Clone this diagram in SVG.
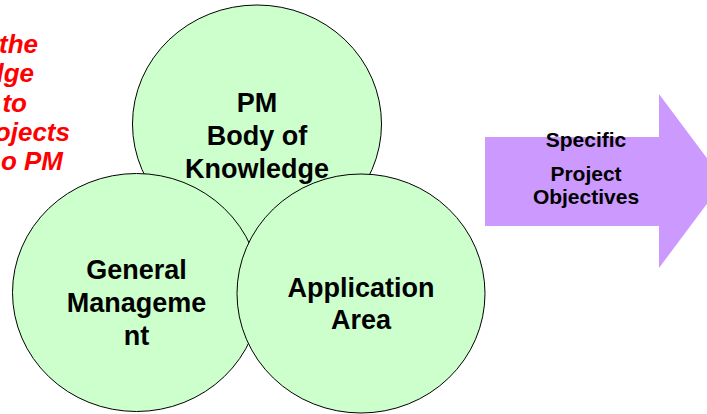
<svg xmlns="http://www.w3.org/2000/svg" width="707" height="414" viewBox="0 0 707 414">
<style>
.c{fill:#CCFFCC;stroke:#000;stroke-width:1}
.t{font-family:"Liberation Sans",Arial,sans-serif;font-weight:bold;font-size:27px;fill:#000;text-anchor:middle}
.a{font-family:"Liberation Sans",Arial,sans-serif;font-weight:bold;font-size:21px;fill:#000;text-anchor:middle}
.r{font-family:"Liberation Sans",Arial,sans-serif;font-weight:bold;font-style:italic;font-size:26px;fill:#FF0000;text-anchor:end}
</style>
<rect width="707" height="414" fill="#fff"/>
<g id="note">
<text class="r" x="38" y="53">the</text>
<text class="r" x="34" y="82">dge</text>
<text class="r" x="27" y="112">to</text>
<text class="r" x="70" y="141">ojects</text>
<text class="r" x="63" y="170">o PM</text>
</g>
<g id="pmbok"><ellipse class="c" cx="257" cy="124" rx="124.5" ry="119"/></g>
<g id="general"><ellipse class="c" cx="136.5" cy="292.5" rx="124" ry="119"/></g>
<g id="application"><ellipse class="c" cx="361" cy="293.5" rx="124" ry="119.5"/></g>
<g id="labels">
<text class="t" x="257" y="112">PM</text>
<text class="t" x="257" y="145">Body of</text>
<text class="t" x="257" y="178">Knowledge</text>
<text class="t" x="136.5" y="279">General</text>
<text class="t" x="136.5" y="312">Manageme</text>
<text class="t" x="136.5" y="345">nt</text>
<text class="t" x="361" y="297">Application</text>
<text class="t" x="361" y="329">Area</text>
</g>
<g id="arrow">
<polygon points="485,137 659,137 659,94 724,181 659,268 659,226 485,226" fill="#CC99FF"/>
<text class="a" x="586" y="147">Specific</text>
<text class="a" x="586" y="181">Project</text>
<text class="a" x="586" y="204">Objectives</text>
</g>
<g id="connectors"/>
</svg>
